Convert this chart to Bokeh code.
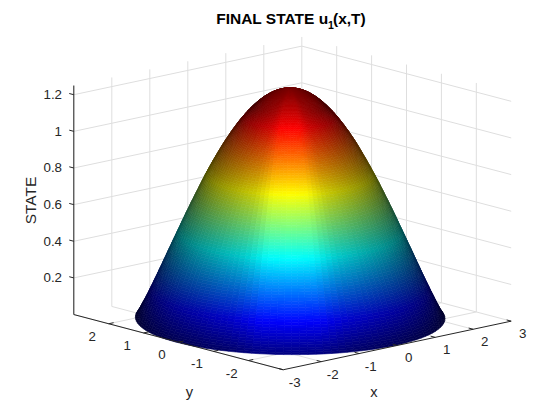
import numpy as np
from bokeh.plotting import figure
from bokeh.models import Range1d, ColumnDataSource
from bokeh.core.properties import value
from bokeh.embed import file_html
from bokeh.resources import INLINE

# ---- values ----
X_TICKS = [-3, -2, -1, 0, 1, 2, 3]
Y_TICKS = [2, 1, 0, -1, -2]
Z_TICKS = [0.2, 0.4, 0.6, 0.8, 1.0, 1.2]
X_LABELS = ["-3", "-2", "-1", "0", "1", "2", "3"]
Y_LABELS = ["2", "1", "0", "-1", "-2"]
Z_LABELS = ["0.2", "0.4", "0.6", "0.8", "1", "1.2"]
X_LIM = [-3, 3]
Y_LIM = [-3, 3]
Z_LIM = [0, 1.25]
# height of the surface u1 on rings r = 0, 0.025, ..., 3
RING_HEIGHT = [
    1.250, 1.250, 1.250, 1.249, 1.248, 1.247, 1.246, 1.244, 1.242, 1.240, 1.238,
    1.235, 1.233, 1.230, 1.227, 1.223, 1.220, 1.216, 1.211, 1.207, 1.202,
    1.198, 1.193, 1.187, 1.182, 1.176, 1.170, 1.164, 1.157, 1.151, 1.144,
    1.137, 1.130, 1.122, 1.115, 1.107, 1.098, 1.090, 1.082, 1.073, 1.064,
    1.055, 1.046, 1.036, 1.026, 1.017, 1.007, 0.996, 0.986, 0.975, 0.965,
    0.954, 0.943, 0.931, 0.920, 0.908, 0.896, 0.884, 0.872, 0.860, 0.848,
    0.835, 0.823, 0.810, 0.797, 0.784, 0.771, 0.758, 0.744, 0.731, 0.717,
    0.703, 0.689, 0.675, 0.661, 0.647, 0.633, 0.619, 0.604, 0.590, 0.575,
    0.561, 0.546, 0.531, 0.516, 0.501, 0.486, 0.471, 0.456, 0.441, 0.426,
    0.411, 0.396, 0.381, 0.366, 0.351, 0.336, 0.320, 0.305, 0.290, 0.275,
    0.260, 0.245, 0.230, 0.215, 0.200, 0.186, 0.171, 0.157, 0.142, 0.128,
    0.114, 0.100, 0.086, 0.072, 0.059, 0.046, 0.033, 0.021, 0.010, 0.0,
]
# brightness of the lit surface against the angle away from the viewer
LIGHT_ANGLE = [0, 12, 17, 24, 40, 55, 70, 90, 180]
LIGHT_LEVEL = [1.0, 0.98, 0.90, 0.80, 0.68, 0.58, 0.47, 0.33, 0.30]

# ---- view of the box, in page pixels ----
ORIGIN = np.array([292.0, 317.35])
EX = np.array([38.0, -8.1])
EY = np.array([-34.9, -9.2])
EZ = np.array([0.0, -183.2])
VIEW_DIR = np.array([-0.676, -0.737])
SURFACE_SHIFT = -2.3


def proj(x, y, z):
    x, y, z = np.asarray(x, float), np.asarray(y, float), np.asarray(z, float)
    return (ORIGIN[0] + EX[0] * x + EY[0] * y + EZ[0] * z,
            ORIGIN[1] + EX[1] * x + EY[1] * y + EZ[1] * z)


def jet(t):
    c = lambda k: np.clip(1.5 - np.abs(4 * t - k), 0, 1)
    return np.stack([c(3), c(2), c(1)], -1)


p = figure(width=544, height=404, x_range=Range1d(0, 544), y_range=Range1d(404, 0),
           output_backend="svg", toolbar_location=None, min_border=0,
           outline_line_color=None, background_fill_color="white",
           border_fill_color="white")
p.axis.visible = False
p.grid.visible = False

GRID = "#dedede"
AXIS = "#262626"
TEXT = "#262626"
FONT = value("Liberation Sans")


def seg(xyz0, xyz1, color, width=1.0):
    a, b = proj(*xyz0), proj(*xyz1)
    p.line([float(a[0]), float(b[0])], [float(a[1]), float(b[1])],
           line_color=color, line_width=width)


x0, x1 = X_LIM
y0, y1 = Y_LIM
z0, z1 = Z_LIM

# walls and floor grid
for x in X_TICKS:
    seg((x, y0, z0), (x, y1, z0), GRID)
    seg((x, y1, z0), (x, y1, z1), GRID)
for y in Y_TICKS:
    seg((x0, y, z0), (x1, y, z0), GRID)
    seg((x1, y, z0), (x1, y, z1), GRID)
for z in Z_TICKS:
    seg((x0, y1, z), (x1, y1, z), GRID)
    seg((x1, y1, z), (x1, y0, z), GRID)

# surface
rings = np.linspace(0, 3, len(RING_HEIGHT))
heights = np.array(RING_HEIGHT)
angles = np.radians(np.arange(0, 361, 3))
xs, ys, cols = [], [], []
for i in range(len(rings) - 1):
    r0, r1 = rings[i], rings[i + 1]
    h0, h1 = heights[i], heights[i + 1]
    for j in range(len(angles) - 1):
        a0, a1 = angles[j], angles[j + 1]
        qx = [r0 * np.cos(a0), r1 * np.cos(a0), r1 * np.cos(a1), r0 * np.cos(a1)]
        qy = [r0 * np.sin(a0), r1 * np.sin(a0), r1 * np.sin(a1), r0 * np.sin(a1)]
        qz = [h0, h1, h1, h0]
        sx, sy = proj(qx, qy, qz)
        area = 0.5 * np.sum(sx * np.roll(sy, -1) - np.roll(sx, -1) * sy)
        if area >= 0:       # faces away from the viewer (floor orientation is negative)
            continue
        am = 0.5 * (a0 + a1)
        phi = np.degrees(np.arccos(np.clip(np.cos(am) * VIEW_DIR[0] + np.sin(am) * VIEW_DIR[1], -1, 1)))
        level = np.interp(phi, LIGHT_ANGLE, LIGHT_LEVEL)
        rm = 0.5 * (r0 + r1)
        level = 1 - (1 - level) * min(1.0, rm / 0.7)
        rgb = jet(np.array(0.5 * (h0 + h1) / Z_LIM[1])) * level
        xs.append((sx + SURFACE_SHIFT).tolist())
        ys.append(sy.tolist())
        cols.append("#%02x%02x%02x" % tuple(int(round(v * 255)) for v in rgb))

src = ColumnDataSource(dict(xs=xs, ys=ys, c=cols))
p.patches("xs", "ys", source=src, fill_color="c", line_color="c", line_width=0.6)

# axes
seg((x0, y1, z0), (x0, y0, z0), AXIS)
seg((x0, y0, z0), (x1, y0, z0), AXIS)
seg((x0, y1, z0), (x0, y1, z1), AXIS)
TICK = 0.13
for y in Y_TICKS:
    seg((x0, y, z0), (x0 + TICK, y, z0), AXIS)
for x in X_TICKS:
    seg((x, y0, z0), (x, y0 + TICK, z0), AXIS)
for z in Z_TICKS:
    seg((x0, y1, z), (x0, y1 + TICK, z), AXIS)


def label(x, y, s, size="13.33px", align="center", color=TEXT, style="normal", angle=0.0):
    p.text([x], [y], text=[s], text_font=FONT, text_font_size=size, text_color=color,
           text_align=align, text_baseline="middle", text_font_style=style, angle=angle)


# tick labels: offset from the axis, along the page
for x, s in zip(X_TICKS, X_LABELS):
    px, py = proj(x, y0, z0)
    label(float(px) + 11.5, float(py) + 12.5, s)
for y, s in zip(Y_TICKS, Y_LABELS):
    px, py = proj(x0, y, z0)
    label(float(px) - 16.5, float(py) + 12.5, s)
for z, s in zip(Z_TICKS, Z_LABELS):
    px, py = proj(x0, y1, z)
    label(61.5, float(py), s, align="right")

label(373.5, 391.5, "x", size="14.67px")
label(189, 391.5, "y", size="14.67px")
label(30, 200, "STATE", size="15.5px", angle=np.pi / 2)

label(215.7, 17.5, "FINAL STATE u", size="15.5px", align="left", color="#000000", style="bold")
label(327.5, 24, "1", size="10.5px", align="left", color="#000000", style="bold")
label(332.5, 17.5, "(x,T)", size="15.5px", align="left", color="#000000", style="bold")

open("out.html", "w").write(file_html(p, INLINE))
